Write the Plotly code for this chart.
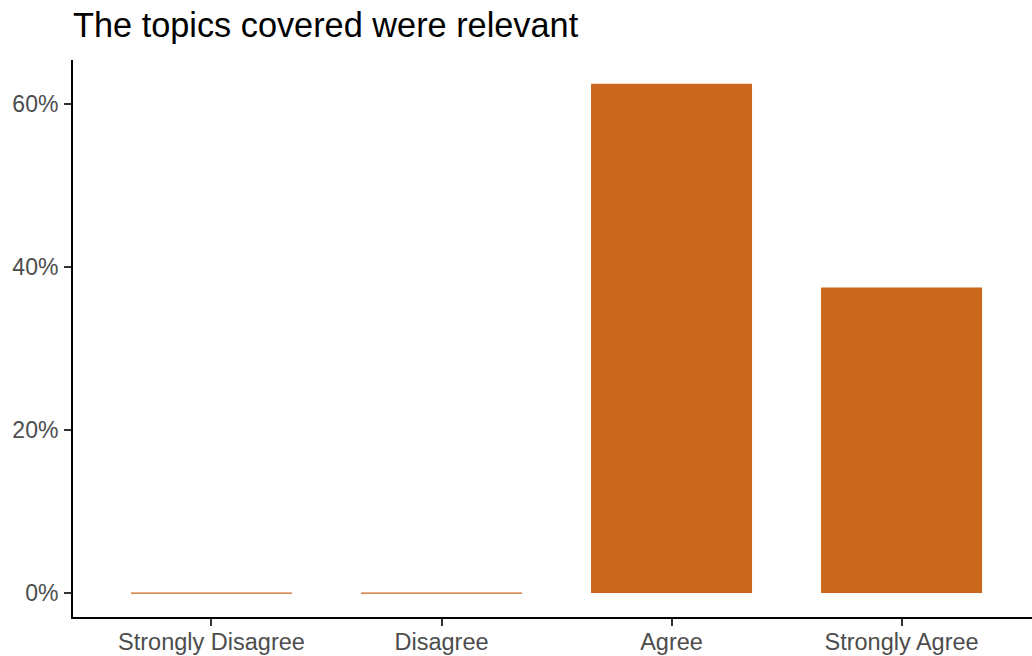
import plotly.graph_objects as go

categories = ["Strongly Disagree", "Disagree", "Agree", "Strongly Agree"]
percent = [0.0, 0.0, 62.5, 37.5]
y_ticks = [0, 20, 40, 60]
y_tick_labels = ["0%", "20%", "40%", "60%"]
chart_title = "The topics covered were relevant"

BAR = "#CB661D"
BAR_WIDTH = 0.7
FONT = "Liberation Sans, Arial, sans-serif"

xpos = list(range(len(categories)))

fig = go.Figure()
fig.add_trace(go.Bar(x=xpos, y=percent, width=BAR_WIDTH,
                     marker=dict(color=BAR, line=dict(width=0)),
                     showlegend=False, hoverinfo="x+y"))
# zero-height bars render as a thin line (as in the reference)
for i, v in zip(xpos, percent):
    if v == 0:
        fig.add_trace(go.Scatter(x=[i - BAR_WIDTH / 2, i + BAR_WIDTH / 2], y=[v, v],
                                 mode="lines", line=dict(color=BAR, width=1.3),
                                 showlegend=False, hoverinfo="skip"))

fig.update_layout(
    width=1032, height=656,
    margin=dict(l=73, r=0, t=60, b=39),
    paper_bgcolor="white", plot_bgcolor="white",
    font=dict(family=FONT, color="#4D4D4D"),
    title=dict(text=chart_title, x=0.0, xref="paper", xanchor="left",
               y=1 - 25 / 656, yref="container", yanchor="middle",
               font=dict(family=FONT, size=34.3, color="black")),
    showlegend=False,
)
fig.update_xaxes(
    tickmode="array", tickvals=xpos, ticktext=categories,
    range=[-0.602, 3.567],
    showline=True, linecolor="black", linewidth=2,
    ticks="outside", ticklen=7, tickwidth=2, tickcolor="#333333",
    tickfont=dict(size=23.5, color="#4D4D4D"),
    ticklabelstandoff=-4,
    showgrid=False, zeroline=False, fixedrange=True,
)
fig.update_yaxes(
    tickmode="array", tickvals=y_ticks, ticktext=y_tick_labels,
    range=[-2.94, 65.4],
    showline=True, linecolor="black", linewidth=2,
    ticks="outside", ticklen=7, tickwidth=2, tickcolor="#333333",
    tickfont=dict(size=23, color="#4D4D4D"),
    ticklabelstandoff=1,
    showgrid=False, zeroline=False, fixedrange=True,
)

fig.write_html("out.html",
               config={"displayModeBar": False},
               post_script="document.body.style.margin='0';document.body.style.padding='0';")
